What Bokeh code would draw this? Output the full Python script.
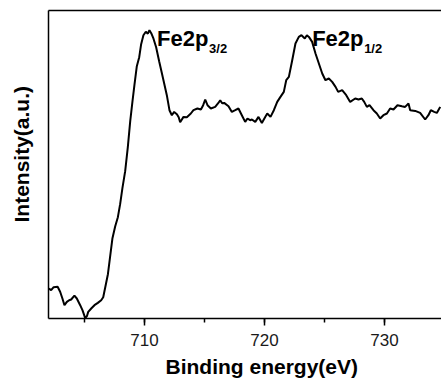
from bokeh.plotting import figure
from bokeh.models import Range1d, LinearAxis, FixedTicker, SingleIntervalTicker, Title, ColumnDataSource
from bokeh.core.properties import value
from bokeh.embed import file_html
from bokeh.resources import INLINE

# Binding energy (eV) and intensity (a.u.)
energy = [702.03, 702.22, 702.43, 702.76, 702.97, 703.16, 703.33, 703.53, 703.72, 703.89,
          704.16, 704.36, 704.64, 704.83, 705.06, 705.20, 705.31, 705.56, 705.83, 706.11,
          706.39, 706.56, 706.73, 706.95, 707.14, 707.33, 707.56, 707.78, 707.97, 708.16,
          708.39, 708.61, 708.81, 709.00, 709.16, 709.36, 709.56, 709.72, 709.91, 710.11,
          710.28, 710.41, 710.56, 710.75, 710.97, 711.22, 711.43, 711.58, 711.86, 712.08,
          712.28, 712.47, 712.70, 712.85, 712.97, 713.25, 713.53, 713.86, 714.08, 714.41,
          714.70, 714.89, 715.06, 715.25, 715.53, 715.89, 716.14, 716.31, 716.47, 716.64,
          717.00, 717.28, 717.56, 717.83, 718.11, 718.39, 718.58, 718.80, 718.95, 719.23,
          719.50, 719.78, 720.06, 720.23, 720.50, 720.78, 721.06, 721.33, 721.61, 721.81,
          722.03, 722.31, 722.58, 722.86, 723.08, 723.36, 723.53, 723.70, 723.97, 724.25,
          724.53, 724.81, 725.08, 725.36, 725.64, 725.92, 726.14, 726.47, 726.81, 727.14,
          727.56, 727.83, 728.11, 728.31, 728.53, 728.75, 729.08, 729.36, 729.64, 729.91,
          730.20, 730.47, 730.75, 731.08, 731.45, 731.72, 732.00, 732.14, 732.56, 732.97,
          733.39, 733.66, 733.86, 734.14, 734.36, 734.64]
intensity = [29.8, 28.3, 31.3, 31.8, 26.8, 20.0, 13.3, 16.6, 18.3, 19.0,
             22.8, 20.0, 13.3, 8.3, 0.3, 2.3, 6.6, 10.0, 13.3, 15.6,
             18.3, 21.3, 31.3, 44.3, 62.3, 80.3, 92.3, 101.3, 114.3, 130.3,
             147.3, 171.3, 197.3, 217.3, 233.3, 252.3, 261.3, 274.3, 283.3, 286.8,
             284.8, 288.3, 285.3, 279.8, 271.3, 257.3, 246.3, 238.3, 223.3, 208.3,
             203.3, 206.6, 204.3, 201.3, 196.3, 201.6, 201.3, 205.0, 208.3, 210.0,
             209.0, 213.3, 219.0, 213.3, 210.0, 211.6, 215.3, 218.3, 215.3, 215.6,
             212.3, 206.6, 208.3, 210.0, 203.3, 196.6, 200.0, 198.3, 199.0, 196.6,
             201.6, 195.6, 201.6, 205.0, 201.6, 208.3, 216.6, 221.6, 226.6, 238.3,
             241.6, 258.3, 275.0, 281.6, 283.3, 280.0, 283.3, 281.6, 276.6, 265.0,
             255.0, 245.0, 238.3, 240.0, 236.6, 231.6, 226.6, 228.3, 223.3, 216.6,
             220.0, 219.0, 220.0, 216.6, 211.6, 213.3, 208.3, 205.0, 200.0, 203.3,
             205.0, 210.0, 209.0, 213.3, 212.3, 211.6, 215.0, 208.3, 207.6, 205.6,
             199.0, 203.3, 208.3, 206.6, 205.6, 211.6]

peak_labels = ["Fe2p", "Fe2p"]
peak_subs = ["3/2", "1/2"]
label_x = [711.05, 723.97]
label_y = [280.0, 280.0]

FONT = "Liberation Sans"

p = figure(width=441, height=383, output_backend="svg", toolbar_location=None,
           x_range=Range1d(702.0, 734.75), y_range=Range1d(0, 308),
           x_axis_location=None, y_axis_location=None,
           min_border_left=48, min_border_right=0, min_border_top=10, min_border_bottom=65)
p.outline_line_color = None
p.grid.visible = False
p.background_fill_color = "white"
p.border_fill_color = "white"

# bottom axis
xa = LinearAxis(ticker=SingleIntervalTicker(interval=10, num_minor_ticks=2))
xa.axis_line_width = 1.5
xa.axis_line_color = "black"
xa.major_tick_out = 7
xa.major_tick_in = 0
xa.minor_tick_out = 4
xa.minor_tick_in = 0
xa.major_tick_line_width = 1.5
xa.minor_tick_line_width = 1.5
xa.major_label_text_font = FONT
xa.major_label_text_font_size = "17px"
xa.major_label_text_color = "#1a1a1a"
xa.major_label_standoff = 8
p.add_layout(xa, "below")

# left axis (line only; one hidden tick keeps room between frame and title)
ya = LinearAxis(ticker=FixedTicker(ticks=[150]))
ya.axis_line_width = 1.5
ya.axis_line_color = "black"
ya.major_tick_line_color = None
ya.minor_tick_line_color = None
ya.major_tick_out = 16
ya.major_tick_in = 0
ya.minor_tick_out = 0
ya.major_label_standoff = 0
ya.major_label_overrides = {150: ""}
p.add_layout(ya, "left")

# top axis (frame line only)
ta = LinearAxis(ticker=FixedTicker(ticks=[]))
ta.axis_line_width = 1.5
ta.axis_line_color = "black"
ta.major_tick_line_color = None
ta.minor_tick_line_color = None
ta.major_tick_out = 2
ta.minor_tick_out = 0
ta.major_label_standoff = 0
p.add_layout(ta, "above")

xt = Title(text="Binding energy(eV)", align="left", offset=117, standoff=8,
           text_font=FONT, text_font_size="21px", text_font_style="bold", text_color="black")
p.add_layout(xt, "below")
yt = Title(text="Intensity(a.u.)", align="left", offset=96, standoff=0,
           text_font=FONT, text_font_size="21px", text_font_style="bold", text_color="black")
p.add_layout(yt, "left")

p.line(energy, intensity, line_color="black", line_width=2)

src = ColumnDataSource(dict(x=label_x, y=label_y, main=peak_labels, sub=peak_subs))
p.text(x="x", y="y", text="main", source=src, text_font=value(FONT), text_font_size="22px",
       text_font_style="bold", text_align="left", text_baseline="alphabetic", text_color="black")
p.text(x="x", y="y", text="sub", source=src, text_font=value(FONT), text_font_size="13px",
       text_font_style="bold", text_align="left", text_baseline="alphabetic", text_color="black",
       x_offset=52, y_offset=10)

open("out.html", "w").write(file_html(p, INLINE))
